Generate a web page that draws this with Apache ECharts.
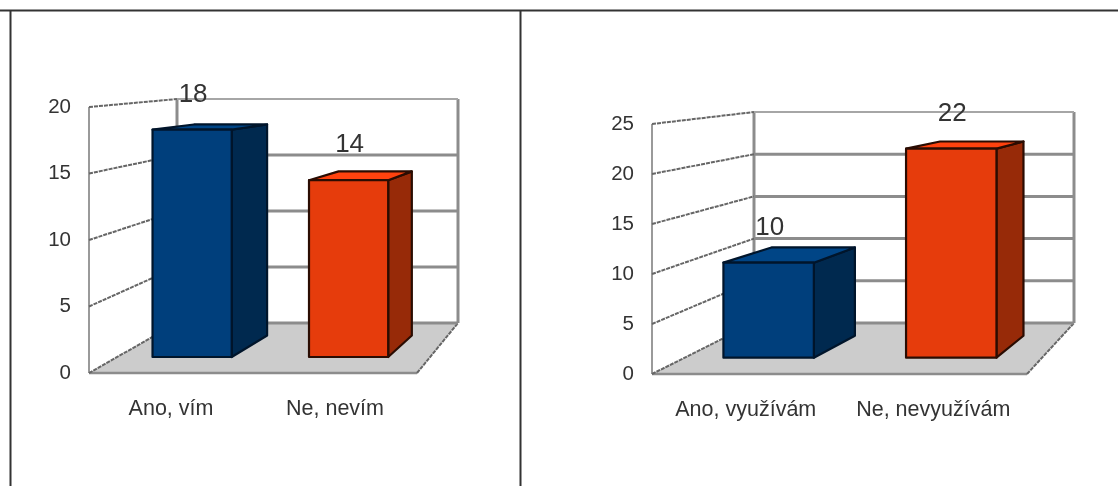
<!DOCTYPE html>
<html><head><meta charset="utf-8">
<style>html,body{margin:0;padding:0;background:#fff}#c{width:1118px;height:486px;filter:blur(0.35px)}</style>
<script src="https://cdn.jsdelivr.net/npm/echarts@6/dist/echarts.min.js"></script>
</head><body><div id="c"></div>
<script>
const categoriesLeft = ['Ano, vím', 'Ne, nevím'];
const valuesLeft = [18, 14];
const ticksLeft = [0, 5, 10, 15, 20];
const categoriesRight = ['Ano, využívám', 'Ne, nevyužívám'];
const valuesRight = [10, 22];
const ticksRight = [0, 5, 10, 15, 20, 25];

const panelLeft = {left: 89, right: 417, top: 107, bottom: 373, shiftL: 88, shiftR: 41, rise: 50, ratio: 0.842, barShift: [-0.0105, -0.0105], cats: categoriesLeft, vals: valuesLeft, ticks: ticksLeft};
const panelRight = {left: 652, right: 1027, top: 124, bottom: 374, shiftL: 102, shiftR: 47, rise: 51, ratio: 0.844, barShift: [-0.015, -0.004], cats: categoriesRight, vals: valuesRight, ticks: ticksRight};
const faces = [
  {front: '#003f7c', side: '#00294f', top: '#004586'},
  {front: '#e63c0c', side: '#972a08', top: '#ff420e'}
];
const GRID_C = '#8c8c8c', SLANT_C = '#666666', TXT = '#333';
const font = s => s + 'px "Liberation Sans", Arial, sans-serif';

const grids = [], xAxes = [], yAxes = [], series = [];

function project(p, x, y, y0, dx, dy) {
  const t = (x - p.left) / (p.right - p.left);
  const shift = p.shiftL + (p.shiftR - p.shiftL) * t;
  const h = y0 - y;
  return [x + shift * dx, y0 - p.rise * dy - h * (1 - (1 - p.ratio) * dy)];
}
function ln(a, b, stroke, lineWidth, dash) {
  return {type: 'line', shape: {x1: a[0], y1: a[1], x2: b[0], y2: b[1]},
    style: {stroke, lineWidth, lineDash: dash || null, fill: null}};
}
function poly(pts, fill, stroke) {
  return {type: 'polygon', shape: {points: pts},
    style: {fill, stroke, lineWidth: 2.2, lineJoin: 'round'}};
}

function addPanel(p, idx) {
  grids.push({left: p.left, top: p.top, width: p.right - p.left, height: p.bottom - p.top});
  xAxes.push({type: 'category', gridIndex: idx, data: p.cats,
    axisLine: {show: false}, axisTick: {show: false}, splitLine: {show: false},
    axisLabel: {margin: 25, color: TXT, fontFamily: 'Liberation Sans', fontSize: 21.5, interval: 0}});
  yAxes.push({type: 'value', gridIndex: idx, min: p.ticks[0], max: p.ticks[p.ticks.length - 1], interval: 5,
    axisLine: {show: false}, axisTick: {show: false}, splitLine: {show: false},
    axisLabel: {margin: 18, color: TXT, fontFamily: 'Liberation Sans', fontSize: 20.5}});

  const maxV = p.ticks[p.ticks.length - 1];
  series.push({type: 'custom', xAxisIndex: idx, yAxisIndex: idx, clip: false, silent: true, z: 1,
    data: [[0, 0]],
    renderItem(params, api) {
      const y0 = api.coord([0, 0])[1], yT = api.coord([0, maxV])[1];
      const L = p.left, R = p.right;
      const a = [L, y0], b = [R, y0], c = project(p, R, y0, y0, 1, 1), d = project(p, L, y0, y0, 1, 1);
      const dT = project(p, L, yT, y0, 1, 1), cT = project(p, R, yT, y0, 1, 1);
      return {type: 'group', children: [
        {type: 'polygon', shape: {points: [a, b, c, d]}, style: {fill: '#cccccc'}},
        ln([L, y0], [L, yT], '#9a9a9a', 2),
        ln(d, dT, GRID_C, 3),
        ln(c, cT, GRID_C, 3),
        ln(a, b, GRID_C, 2.4),
        ln(b, c, SLANT_C, 2, [4, 1])
      ]};
    }});
  series.push({type: 'custom', xAxisIndex: idx, yAxisIndex: idx, clip: false, silent: true, z: 2,
    data: p.ticks.map(v => [0, v]),
    renderItem(params, api) {
      const v = api.value(1);
      const y0 = api.coord([0, 0])[1], y = api.coord([0, v])[1];
      const front = [p.left, y];
      const bl = project(p, p.left, y, y0, 1, 1), br = project(p, p.right, y, y0, 1, 1);
      const isTop = v === maxV;
      return {type: 'group', children: [
        ln(bl, br, isTop ? '#a6a6a6' : GRID_C, isTop ? 2 : 3),
        ln(front, bl, SLANT_C, 2, [4, 1])
      ]};
    }});
  series.push({type: 'custom', xAxisIndex: idx, yAxisIndex: idx, clip: false, silent: true, z: 3,
    data: p.vals.map((v, i) => [i, v]),
    renderItem(params, api) {
      const i = api.value(0), v = api.value(1);
      const W = p.right - p.left;
      const xc = api.coord([i, 0])[0] + p.barShift[i] * W;
      const half = 0.1265 * W;
      const y0 = api.coord([i, 0])[1], yv = api.coord([i, v])[1];
      const DF = 0.32, DBX = 0.82, DBY = 0.75;
      const pt = (x, y, dx, dy) => project(p, x, y, y0, dx, dy);
      const fl = xc - half, fr = xc + half;
      const flb = pt(fl, y0, DF, DF), frb = pt(fr, y0, DF, DF), frt = pt(fr, yv, DF, DF), flt = pt(fl, yv, DF, DF);
      const brb = pt(fr, y0, DBX, DBY), brt = pt(fr, yv, DBX, DBY), blt = pt(fl, yv, DBX, DBY);
      const f = faces[i], edge = i === 0 ? '#00152b' : '#2a0c02';
      return {type: 'group', children: [
        poly([frb, frt, brt, brb], f.side, edge),
        poly([flt, frt, brt, blt], f.top, edge),
        poly([flb, frb, frt, flt], f.front, edge),
        {type: 'text', style: {text: String(v), x: (flt[0] + frt[0]) / 2 + 1, y: flt[1] - 35,
          align: 'center', verticalAlign: 'middle', fill: TXT, font: font(26)}, z2: 10}
      ]};
    }});
}
addPanel(panelLeft, 0);
addPanel(panelRight, 1);

const chart = echarts.init(document.getElementById('c'), null, {renderer: 'canvas'});
chart.setOption({
  animation: false, backgroundColor: '#fff',
  grid: grids, xAxis: xAxes, yAxis: yAxes, series,
  graphic: [
    {type: 'line', shape: {x1: 0, y1: 10.5, x2: 1118, y2: 10.5}, style: {stroke: '#333', lineWidth: 2}, silent: true},
    {type: 'line', shape: {x1: 10.5, y1: 10, x2: 10.5, y2: 486}, style: {stroke: '#333', lineWidth: 2}, silent: true},
    {type: 'line', shape: {x1: 520.5, y1: 10, x2: 520.5, y2: 486}, style: {stroke: '#333', lineWidth: 2}, silent: true}
  ]
});
</script></body></html>
